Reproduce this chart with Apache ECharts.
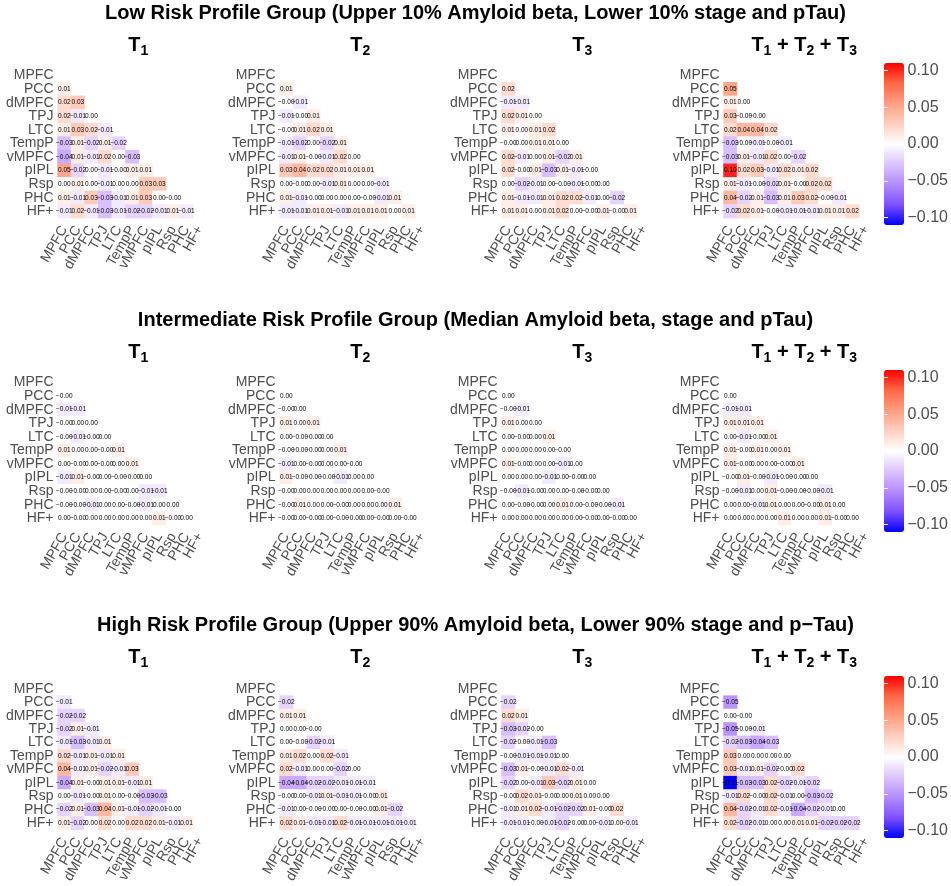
<!DOCTYPE html>
<html><head><meta charset="utf-8">
<script src="https://cdn.jsdelivr.net/npm/echarts@6/dist/echarts.min.js"></script>
<style>html,body{margin:0;padding:0;background:#fff}#c{width:951px;height:886px}</style>
</head><body><div id="c"></div>
<script>
const regions = ['MPFC','PCC','dMPFC','TPJ','LTC','TempP','vMPFC','pIPL','Rsp','PHC','HF+'];
const groupTitles = [
  'Low Risk Profile Group (Upper 10% Amyloid beta, Lower 10% stage and pTau)',
  'Intermediate Risk Profile Group (Median Amyloid beta, stage and pTau)',
  'High Risk Profile Group (Upper 90% Amyloid beta, Lower 90% stage and p\u2212Tau)'
];
const colorTicks = [-0.10, -0.05, 0.00, 0.05, 0.10];
const colorLimit = 0.11;

// lower-triangle values, row i (PCC..HF+) holds columns MPFC..(i-1)
const low_T1 = [
 [0.01],
 [0.02,0.03],
 [0.02,-0.01,0.00],
 [0.01,0.03,0.02,-0.01],
 [-0.03,0.01,-0.02,0.01,-0.02],
 [-0.04,0.01,-0.01,0.02,0.00,-0.03],
 [0.05,-0.02,0.00,-0.01,-0.00,0.01,0.01],
 [0.00,0.01,0.00,-0.01,0.00,0.00,0.03,0.03],
 [0.01,-0.01,0.03,-0.03,-0.01,0.01,0.03,0.00,-0.00],
 [-0.01,0.02,-0.01,-0.03,-0.01,-0.02,-0.02,-0.01,0.01,-0.01]
];
const low_T2 = [
 [0.01],
 [-0.00,-0.01],
 [-0.01,-0.00,0.01],
 [-0.00,0.01,0.02,0.01],
 [-0.01,-0.02,0.00,-0.02,0.01],
 [-0.01,0.01,-0.00,-0.01,0.02,0.00],
 [0.03,0.04,0.02,0.02,0.01,0.01,0.01],
 [0.00,-0.00,0.00,-0.01,0.01,0.00,0.00,-0.01],
 [0.01,-0.01,-0.00,0.00,0.00,0.00,-0.00,-0.01,0.01],
 [-0.01,-0.01,0.01,0.01,-0.01,0.01,0.01,0.01,0.00,0.01]
];
const low_T3 = [
 [0.02],
 [-0.01,-0.01],
 [0.02,0.01,0.00],
 [0.01,0.00,0.01,0.02],
 [-0.00,0.00,0.01,0.01,0.00],
 [0.02,-0.01,0.00,0.01,-0.02,0.01],
 [0.02,-0.00,0.01,-0.03,0.01,-0.01,-0.00],
 [0.00,-0.02,-0.01,0.00,-0.00,-0.01,-0.00,0.00],
 [0.01,-0.01,-0.01,0.01,0.02,0.02,-0.01,0.00,-0.02],
 [0.01,0.01,0.00,0.01,0.02,0.00,-0.00,0.01,-0.00,0.01]
];
const low_Sum = [
 [0.05],
 [0.01,0.00],
 [0.03,-0.00,-0.00],
 [0.02,0.04,0.04,0.02],
 [-0.03,-0.00,-0.01,-0.00,-0.01],
 [-0.03,0.01,-0.01,0.02,0.00,-0.02],
 [0.10,0.02,0.03,-0.01,0.02,0.01,0.02],
 [0.01,-0.01,-0.00,-0.02,0.01,-0.00,0.02,0.02],
 [0.04,-0.02,0.01,-0.03,0.01,0.03,0.02,-0.00,-0.01],
 [-0.02,0.02,0.01,-0.00,-0.01,-0.01,-0.01,0.01,0.01,0.02]
];
const mid_T1 = [
 [-0.00],
 [-0.01,-0.01],
 [-0.00,0.00,0.00],
 [-0.00,-0.01,-0.00,0.00],
 [0.01,0.00,0.00,-0.00,0.01],
 [0.00,-0.00,0.00,-0.00,0.00,0.01],
 [-0.01,0.01,-0.00,0.00,-0.00,-0.00,0.00],
 [-0.00,-0.00,0.00,0.00,-0.00,0.00,-0.01,-0.01],
 [-0.00,-0.00,-0.01,0.00,0.00,-0.00,-0.01,0.00,0.00],
 [0.00,-0.00,0.00,0.00,0.00,0.00,0.00,0.01,-0.00,0.00]
];
const mid_T2 = [
 [0.00],
 [-0.00,0.00],
 [0.01,0.00,0.01],
 [0.00,-0.00,-0.00,0.00],
 [-0.00,-0.00,-0.00,0.00,0.01],
 [-0.01,0.00,-0.00,0.00,0.00,-0.00],
 [0.01,-0.00,-0.00,-0.00,-0.01,0.00,0.00],
 [-0.00,0.00,0.00,0.00,0.00,0.00,0.00,-0.00],
 [-0.00,0.01,0.00,0.00,-0.00,0.00,0.00,0.00,0.01],
 [-0.00,0.00,-0.00,0.00,-0.00,-0.00,0.00,-0.00,0.00,-0.00]
];
const mid_T3 = [
 [0.00],
 [-0.00,-0.01],
 [0.01,0.00,0.00],
 [0.00,-0.00,0.00,0.01],
 [0.00,0.00,0.00,0.00,-0.00],
 [0.01,-0.00,0.00,0.00,-0.01,0.00],
 [0.00,0.00,0.00,-0.01,0.00,-0.00,0.00],
 [-0.00,-0.01,-0.00,0.00,0.00,-0.00,-0.00,0.00],
 [0.00,-0.00,-0.00,0.00,0.01,0.00,-0.00,-0.00,-0.01],
 [0.00,0.00,0.00,0.00,0.00,0.00,-0.00,0.00,-0.00,0.00]
];
const mid_Sum = [
 [0.00],
 [-0.01,-0.01],
 [0.01,0.01,0.01],
 [0.00,-0.01,-0.00,0.01],
 [0.01,-0.00,0.01,0.00,0.01],
 [0.01,-0.00,0.00,0.00,-0.00,0.01],
 [-0.00,0.01,-0.00,-0.01,-0.00,-0.00,0.00],
 [-0.00,-0.01,0.00,0.01,-0.00,-0.00,-0.00,-0.01],
 [0.00,0.00,-0.01,0.01,0.00,0.00,-0.00,0.01,0.00],
 [0.00,0.00,0.00,0.00,0.01,0.00,0.00,0.01,-0.00,0.00]
];
const high_T1 = [
 [-0.01],
 [-0.02,-0.02],
 [-0.02,0.01,-0.01],
 [-0.01,-0.03,-0.01,0.01],
 [0.02,-0.01,0.01,-0.01,0.01],
 [0.04,-0.01,0.01,-0.02,-0.01,0.03],
 [-0.04,0.01,-0.00,0.01,0.01,-0.01,0.01],
 [0.00,-0.01,-0.00,0.01,0.00,-0.00,-0.03,-0.03],
 [-0.02,0.01,-0.03,0.04,0.01,-0.01,-0.02,-0.01,-0.00],
 [0.01,-0.02,0.00,0.02,0.00,0.02,0.02,0.01,-0.01,0.01]
];
const high_T2 = [
 [-0.02],
 [0.01,0.01],
 [0.00,0.00,-0.00],
 [0.00,-0.00,-0.02,-0.01],
 [0.01,0.02,0.00,0.02,-0.01],
 [0.02,-0.01,0.00,0.00,-0.02,0.00],
 [-0.04,-0.04,-0.02,-0.02,-0.01,-0.01,-0.01],
 [-0.00,0.00,-0.01,0.01,-0.01,-0.01,-0.00,0.01],
 [-0.01,0.00,-0.00,-0.00,0.00,-0.00,-0.00,0.01,-0.02],
 [0.02,0.01,-0.01,-0.01,0.02,-0.01,-0.01,-0.01,-0.01,-0.01]
];
const high_T3 = [
 [-0.02],
 [0.02,0.01],
 [-0.03,-0.02,-0.00],
 [-0.02,-0.00,-0.01,-0.03],
 [-0.00,-0.01,-0.01,-0.01,0.00],
 [-0.03,0.01,-0.00,-0.01,0.02,-0.01],
 [-0.02,0.00,-0.01,0.03,-0.02,0.01,0.00],
 [-0.00,0.02,0.01,-0.00,0.00,0.01,0.00,0.00],
 [-0.01,0.01,0.02,-0.01,-0.02,-0.02,0.01,-0.00,0.02],
 [-0.01,-0.01,-0.00,-0.01,-0.02,-0.00,0.00,-0.01,0.00,-0.01]
];
const high_Sum = [
 [-0.05],
 [0.00,-0.00],
 [-0.05,-0.00,-0.01],
 [-0.02,-0.03,-0.04,-0.03],
 [0.03,0.00,0.00,0.00,0.00],
 [0.03,-0.01,0.01,-0.02,-0.00,0.02],
 [-0.11,-0.03,-0.03,0.02,-0.02,-0.01,-0.02],
 [-0.01,0.02,-0.00,0.02,-0.01,0.00,-0.03,-0.02],
 [0.04,-0.02,-0.01,0.02,-0.01,-0.04,-0.02,-0.01,0.00],
 [0.02,-0.02,-0.01,0.00,0.00,0.01,0.01,-0.02,-0.02,-0.02]
];

const panels = [
  [low_T1, low_T2, low_T3, low_Sum],
  [mid_T1, mid_T2, mid_T3, mid_Sum],
  [high_T1, high_T2, high_T3, high_Sum]
];
const panelTitles = [
  '{t|T}{s|1}', '{t|T}{s|2}', '{t|T}{s|3}',
  '{t|T}{s|1}{t| + T}{s|2}{t| + T}{s|3}'
];

function fmt(v) {
  const neg = v < 0 || Object.is(v, -0);
  return (neg ? '\u2212' : '') + Math.abs(v).toFixed(2);
}

const FONT = 'Liberation Sans';
const GREY = '#4D4D4D';
const colLeft = [57.5, 279.5, 501.5, 723.5];
const rowTop = [68.7, 375.7, 682.2];
const cell = 13.58;
const gridSize = cell * 11;
const titleY = [3, 310, 615];
const subY = [33, 340, 645];
const barTop = [63, 370, 676];
const barH = 162;
const barLeft = 884;
const barW = 20;
const palette = ['#0000FF','#7E51FF','#B38BFF','#DCC4FF','#FFFFFF','#FFCFBF','#FF9E81','#FF6846','#FF0000'];

const grid = [], xAxis = [], yAxis = [], series = [], title = [], visualMap = [];

for (let r = 0; r < 3; r++) {
  title.push({
    text: groupTitles[r], left: 'center', top: titleY[r], padding: 0,
    textStyle: {fontFamily: FONT, fontSize: 20, fontWeight: 'bold', color: '#000'}
  });
  const sIdx = [];
  for (let c = 0; c < 4; c++) {
    const gi = grid.length;
    grid.push({left: colLeft[c], top: rowTop[r], width: gridSize, height: gridSize, containLabel: false});
    title.push({
      text: panelTitles[c], left: colLeft[c] + gridSize / 2 + 6, top: subY[r], textAlign: 'center', padding: 0,
      textStyle: {
        fontFamily: FONT, fontSize: 20, color: '#000',
        rich: {
          t: {fontFamily: FONT, fontSize: 20, color: '#000', lineHeight: 24},
          s: {fontFamily: FONT, fontSize: 14, color: '#000', lineHeight: 24, padding: [12, 0, 0, 0]}
        }
      }
    });
    const xi = xAxis.length;
    xAxis.push({
      type: 'category', data: regions, gridIndex: gi,
      axisLine: {show: false}, axisTick: {show: false}, splitLine: {show: false},
      axisLabel: {rotate: 60, interval: 0, fontFamily: FONT, fontSize: 14, color: GREY, margin: 9}
    });
    const yi = yAxis.length;
    yAxis.push({
      type: 'category', data: regions, gridIndex: gi, inverse: true,
      axisLine: {show: false}, axisTick: {show: false}, splitLine: {show: false},
      axisLabel: {interval: 0, fontFamily: FONT, fontSize: 14, color: GREY, margin: 4}
    });
    const vals = panels[r][c];
    const data = [];
    vals.forEach((row, i) => row.forEach((v, j) => data.push([j, i + 1, v])));
    sIdx.push(series.length);
    series.push({
      type: 'heatmap', xAxisIndex: xi, yAxisIndex: yi, data: data,
      itemStyle: {borderWidth: 0},
      label: {
        show: true, fontFamily: FONT, fontSize: 6.5, color: '#000',
        formatter: p => fmt(p.data[2])
      },
      emphasis: {disabled: true}
    });
  }
  visualMap.push({
    type: 'continuous', min: -colorLimit, max: colorLimit, seriesIndex: sIdx,
    calculable: false, show: true, left: barLeft, top: barTop[r], padding: 0,
    itemWidth: barW, itemHeight: barH, text: null, inRange: {color: palette}
  });
  // colour-bar axis
  const gi = grid.length;
  grid.push({left: barLeft, top: barTop[r], width: barW, height: barH, z: 10});
  xAxis.push({type: 'value', gridIndex: gi, show: false});
  yAxis.push({
    type: 'value', gridIndex: gi, min: -colorLimit, max: colorLimit, position: 'right', z: 10,
    axisLine: {show: false}, splitLine: {show: false},
    axisTick: {show: true, inside: true, length: 4, lineStyle: {color: '#fff', width: 1}, customValues: colorTicks},
    axisLabel: {show: true, customValues: colorTicks, formatter: v => fmt(v), fontFamily: FONT, fontSize: 16, color: GREY, margin: 8}
  });
  yAxis.push({
    type: 'value', gridIndex: gi, min: -colorLimit, max: colorLimit, position: 'left', z: 10,
    axisLine: {show: false}, splitLine: {show: false},
    axisTick: {show: true, inside: true, length: 4, lineStyle: {color: '#fff', width: 1}, customValues: colorTicks},
    axisLabel: {show: false}
  });
}

const chart = echarts.init(document.getElementById('c'), null, {renderer: 'canvas'});
chart.setOption({
  animation: false, backgroundColor: '#fff',
  title, grid, xAxis, yAxis, series, visualMap
});
</script></body></html>
